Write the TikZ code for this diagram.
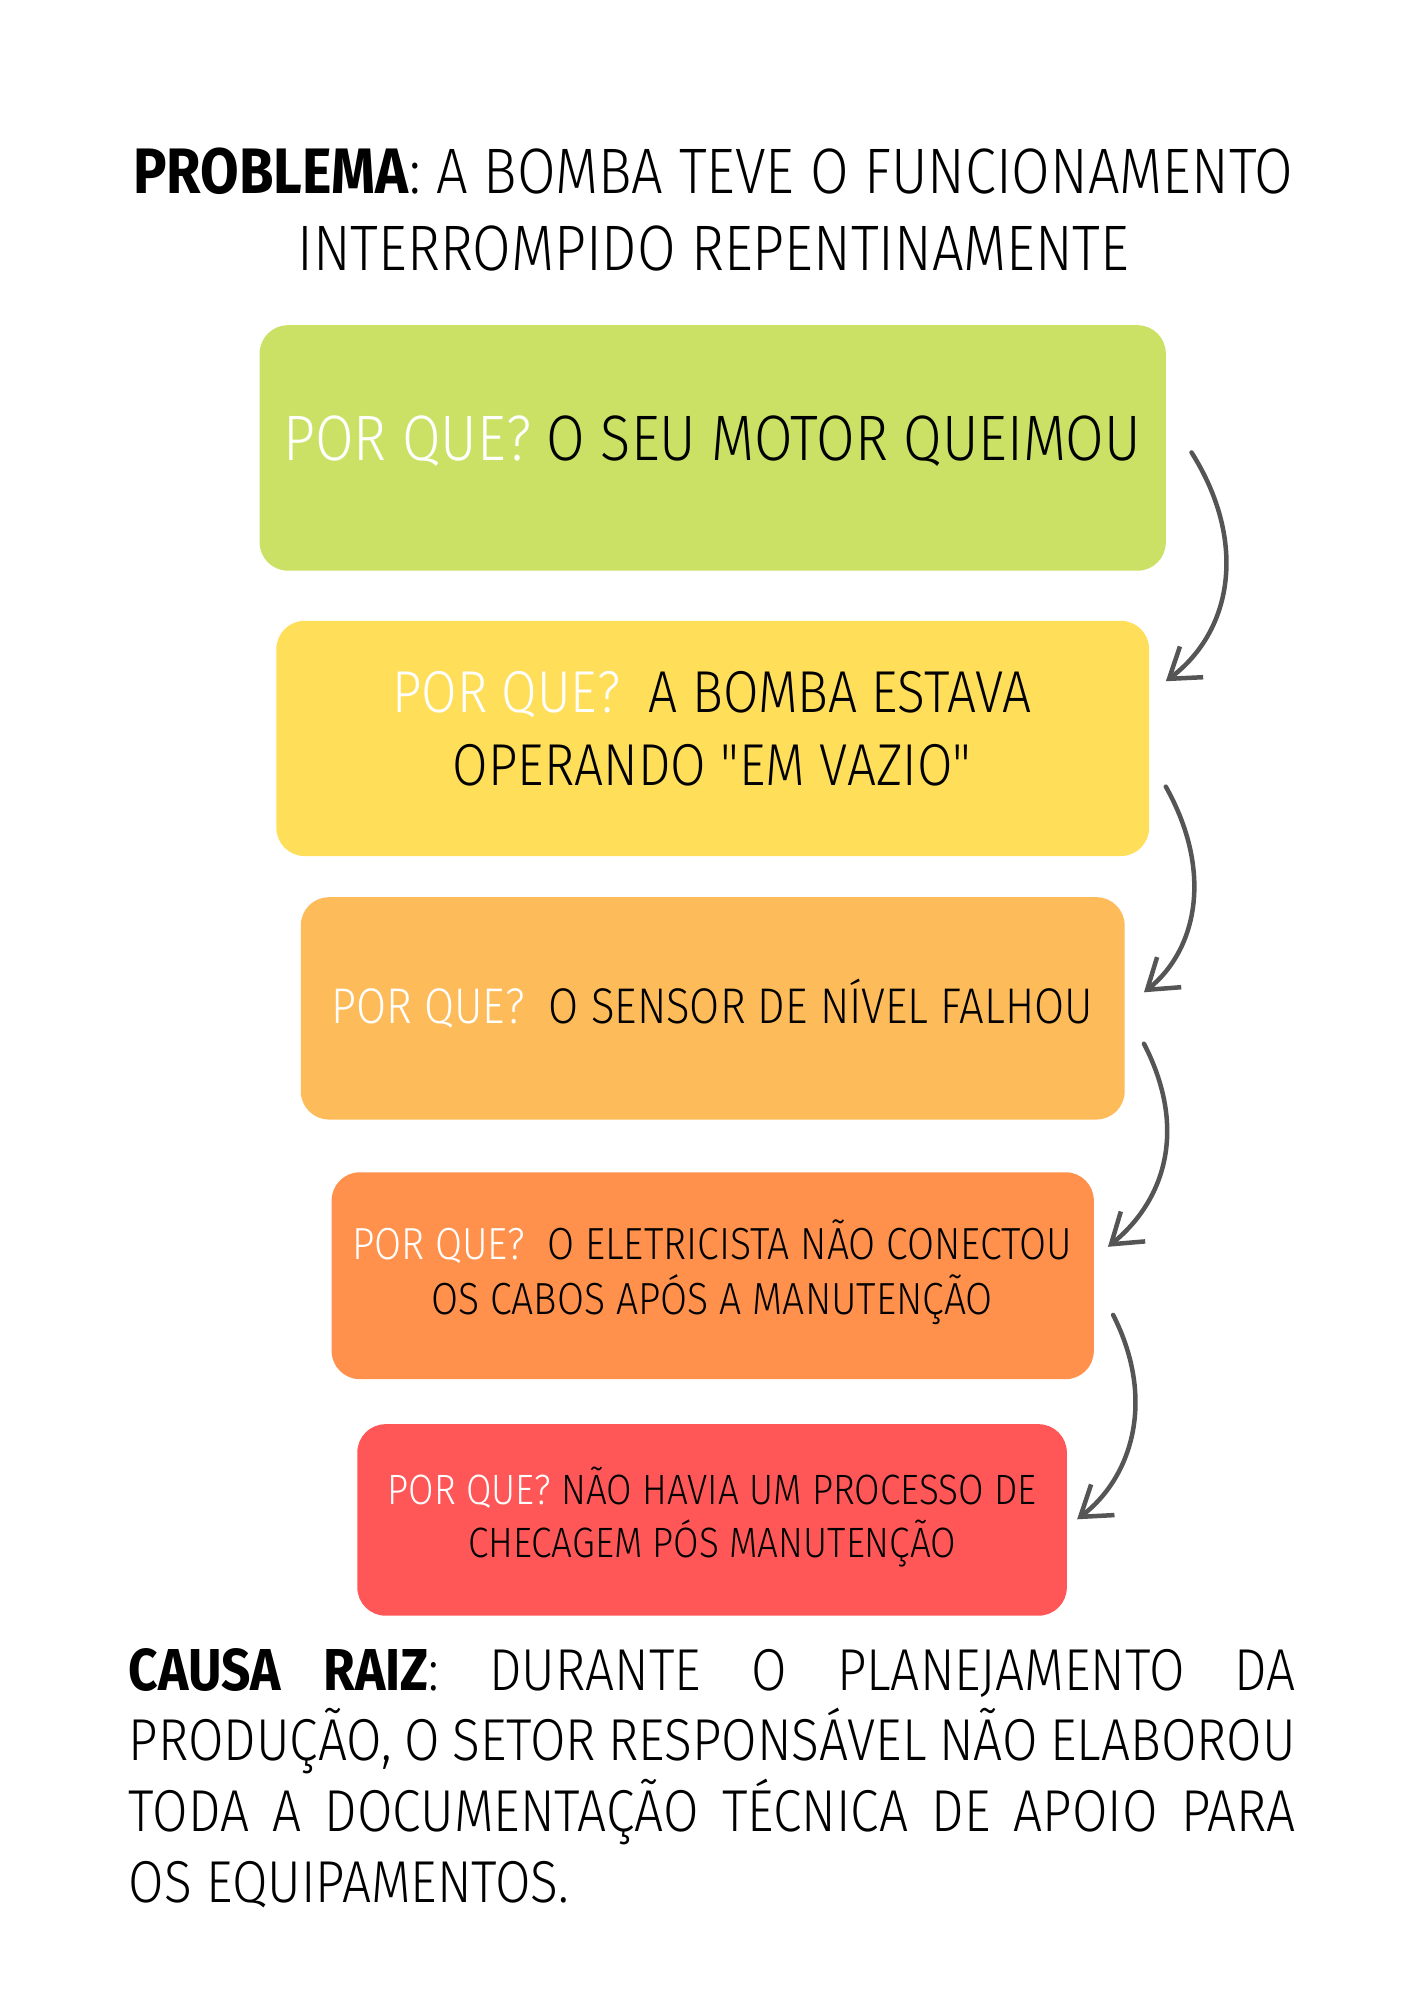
\documentclass[tikz,border=0pt]{standalone}
\usepackage{fontspec}
\setmainfont[FakeStretch=0.87]{Fira Sans Light}[BoldFont=Fira Sans Bold]
\usetikzlibrary{arrows.meta}
\definecolor{c1}{HTML}{CBE166}
\definecolor{c2}{HTML}{FFDE59}
\definecolor{c3}{HTML}{FDBB59}
\definecolor{c4}{HTML}{FF914D}
\definecolor{c5}{HTML}{FF5757}
\definecolor{arr}{HTML}{555555}
\tikzset{box/.style={rounded corners=22pt,inner sep=0pt},
 txt/.style={align=center,inner sep=0pt},
 curv/.style={draw=arr,line width=3.5pt,line cap=round,-{Straight Barb[length=22pt,width=30pt,line width=3.5pt]}}}
\newcommand{\pq}{\textcolor{white}{POR QUE?}}
\newcommand{\sq}{{\addfontfeature{Ligatures=TeXOff}\char34}}
\begin{document}
\begin{tikzpicture}[x=1pt,y=-1pt]
\useasboundingbox[fill=white] (0,0) rectangle (1100,1556);
\node[txt,font=\fontsize{50}{60}\selectfont] (title) at (555,163) {\textbf{PROBLEMA}: A BOMBA TEVE O FUNCIONAMENTO\\INTERROMPIDO REPENTINAMENTE};
\fill[c1,box] (202,253) rectangle (907,444);
\node[txt,font=\fontsize{50}{60}\selectfont] (t1) at (554,343) {\pq{} O SEU MOTOR QUEIMOU};
\fill[c2,box] (215,483) rectangle (894,666);
\node[txt,font=\fontsize{46}{57}\selectfont] (t2) at (554,567) {\pq{}\ \ A BOMBA ESTAVA\\OPERANDO \sq EM VAZIO\sq};
\fill[c3,box] (234,698) rectangle (875,871);
\node[txt,font=\fontsize{39}{50}\selectfont] (t3) at (554,781) {\pq{}\ \ O SENSOR DE NÍVEL FALHOU};
\fill[c4,box] (258,912) rectangle (851,1073);
\node[txt,font=\fontsize{35}{43}\selectfont] (t4) at (554,990) {\pq{}\ \ O ELETRICISTA NÃO CONECTOU\\OS CABOS APÓS A MANUTENÇÃO};
\fill[c5,box] (278,1108) rectangle (830,1257);
\node[txt,font=\fontsize{33}{41}\selectfont] (t5) at (554,1180) {\pq{} NÃO HAVIA UM PROCESSO DE\\CHECAGEM PÓS MANUTENÇÃO};
\node[inner sep=0pt,text width=908pt,align=justify,anchor=north west,font=\fontsize{46}{55}\selectfont] (causa) at (100,1282) {\hyphenpenalty=10000 \textbf{CAUSA RAIZ}: DURANTE O PLANEJAMENTO DA\linebreak PRODUÇÃO, O SETOR RESPONSÁVEL NÃO ELABOROU\linebreak TODA A DOCUMENTAÇÃO TÉCNICA DE APOIO PARA\linebreak OS EQUIPAMENTOS.};
\coordinate (a1) at (927,352); \coordinate (b1) at (907,530);
\coordinate (a2) at (907,612); \coordinate (b2) at (890,772);
\coordinate (a3) at (890,812); \coordinate (b3) at (862,970);
\coordinate (a4) at (866,1023); \coordinate (b4) at (838,1182);
\draw[curv] (a1) .. controls (970,420) and (960,490) .. (b1);
\draw[curv] (a2) .. controls (945,680) and (930,740) .. (b2);
\draw[curv] (a3) .. controls (925,880) and (905,935) .. (b3);
\draw[curv] (a4) .. controls (900,1090) and (880,1150) .. (b4);
\end{tikzpicture}
\end{document}
